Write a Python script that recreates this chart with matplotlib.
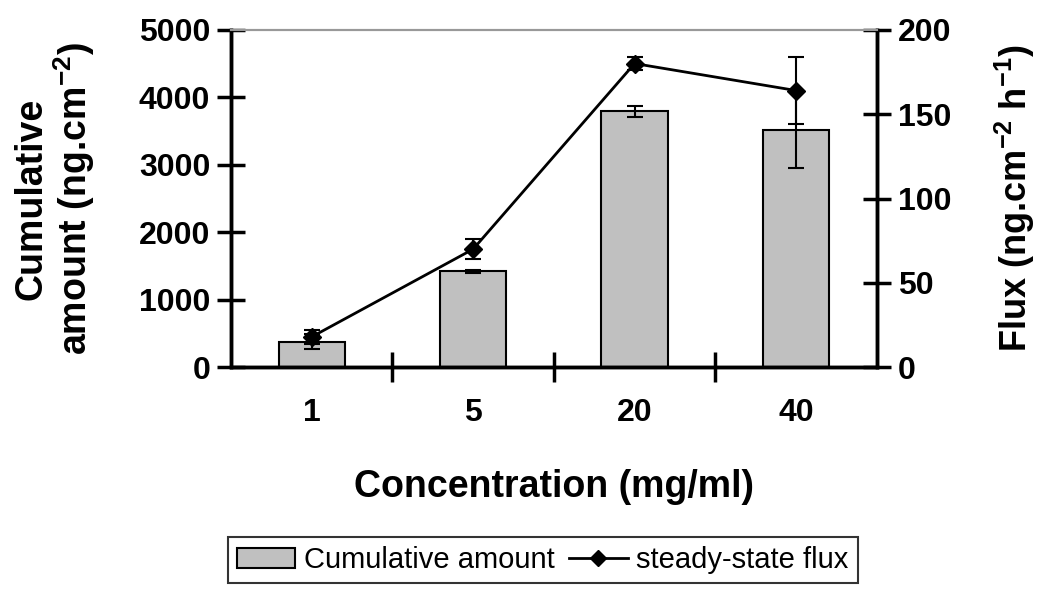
import numpy as np
import matplotlib.pyplot as plt
from matplotlib.lines import Line2D

plt.rcParams['font.family'] = ['Liberation Sans', 'DejaVu Sans']
plt.rcParams['mathtext.default'] = 'regular'

concentrations = ['1', '5', '20', '40']
cumulative = [380, 1420, 3790, 3520]
cumulative_err = [110, 25, 85, 570]
flux = [18, 70, 180, 164]
flux_err = [4, 6, 4, 20]

fig = plt.figure(figsize=(10.5, 6.08), dpi=100)
ax = fig.add_axes([0.22, 0.396, 0.615, 0.555])
ax2 = ax.twinx()

x = np.arange(len(concentrations))
bars = ax.bar(x, cumulative, width=0.41, color='#c0c0c0', edgecolor='black', linewidth=1.5,
              label='Cumulative amount', zorder=2)
ax.errorbar(x, cumulative, yerr=cumulative_err, fmt='none', ecolor='black',
            elinewidth=1.5, capsize=6, capthick=1.5, zorder=3)

ax2.errorbar(x, flux, yerr=flux_err, color='black', lw=2, marker='D', ms=9,
             elinewidth=1.5, capsize=6, capthick=1.5)

ax.set_xlim(-0.5, 3.5)
ax.set_ylim(0, 5000)
ax2.set_ylim(0, 200)
ax.set_yticks(np.arange(0, 5001, 1000))
ax2.set_yticks(np.arange(0, 201, 50))

ax.set_xticks(x)
ax.set_xticklabels(concentrations)
ax.set_xticks([0.5, 1.5, 2.5], minor=True)
ax.tick_params(axis='x', which='major', length=0, pad=22, labelsize=23)
ax.tick_params(axis='x', which='minor', direction='inout', length=22, width=2.5)

for a in (ax, ax2):
    for s in ('left', 'right', 'bottom'):
        a.spines[s].set_linewidth(2.5)
    a.spines['top'].set_color('#999999')
    a.spines['top'].set_linewidth(1.5)
ax.tick_params(axis='y', direction='inout', length=20, width=2.5, labelsize=23, pad=5)
ax2.tick_params(axis='y', direction='inout', length=20, width=2.5, labelsize=23, pad=5)
for lab in ax.get_xticklabels() + ax.get_yticklabels() + ax2.get_yticklabels():
    lab.set_fontweight('bold')

ax.set_xlabel('Concentration (mg/ml)', fontsize=27, fontweight='bold', labelpad=30)
ax.set_ylabel('Cumulative\namount (ng.cm$^{-2}$)', fontsize=27,
              fontweight='bold', labelpad=30, linespacing=1.05)
ax2.set_ylabel('Flux (ng.cm$^{-2}$ h$^{-1}$)', fontsize=26,
               fontweight='bold', labelpad=30)

flux_handle = Line2D([], [], color='black', lw=2, marker='D', ms=8)
leg = fig.legend([bars, flux_handle], ['Cumulative amount', 'steady-state flux'],
                 loc='center', bbox_to_anchor=(0.517, 0.079), ncol=2,
                 fontsize=21, frameon=True, fancybox=False, edgecolor='black',
                 handlelength=2.0, columnspacing=0.5, handletextpad=0.3,
                 borderpad=0.3)
leg.get_frame().set_linewidth(1.5)

fig.savefig('out.png', dpi=100)
